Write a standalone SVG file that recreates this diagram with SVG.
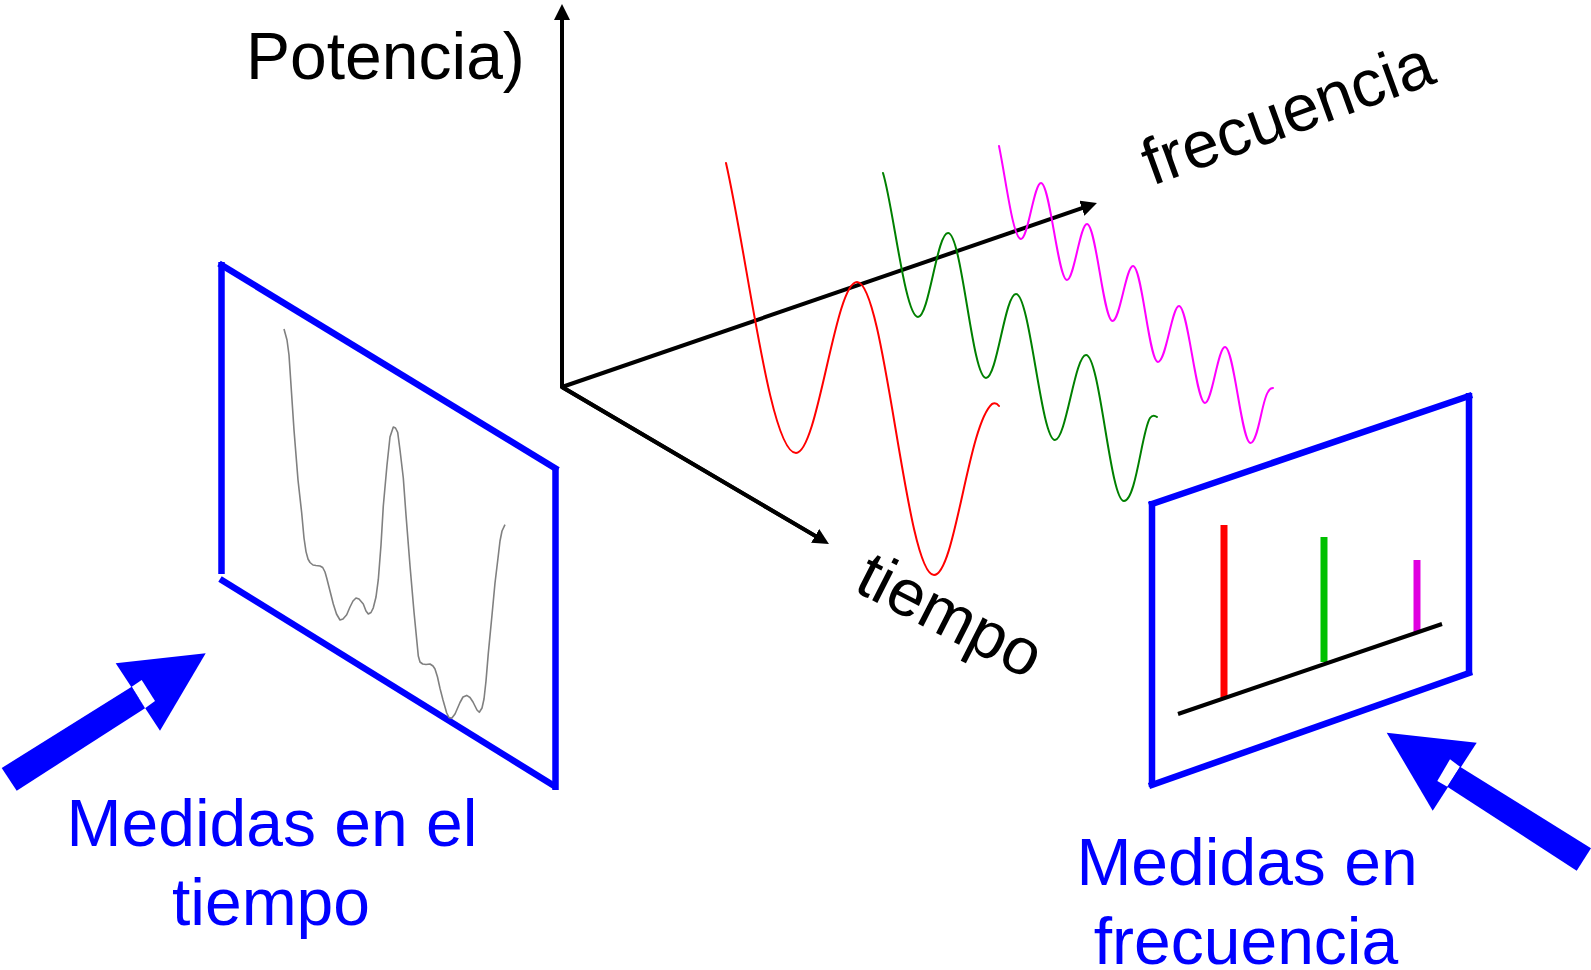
<svg xmlns="http://www.w3.org/2000/svg" width="1591" height="970" viewBox="0 0 1591 970">
<style>
.txt{font-family:"Liberation Sans",Arial,sans-serif;font-size:66px;fill:#000}
.blue{fill:#0000FF}
.axis{fill:none;stroke:#000;stroke-width:4;stroke-linejoin:miter}
.panel{fill:none;stroke:#0000FF;stroke-width:6.5;stroke-linecap:butt}
.wave{fill:none;stroke-width:2;stroke-linecap:round;stroke-linejoin:round}
.big{fill:#0000FF}
</style>
<defs>
<marker id="ah" viewBox="0 0 16 16" refX="4" refY="8" markerUnits="userSpaceOnUse" markerWidth="16" markerHeight="16" orient="auto">
<path d="M0,0 L16,8 L0,16 z" fill="#000"/>
</marker>
</defs>
<rect width="1591" height="970" fill="#fff"/>

<g id="connectors">
<path class="axis" d="M818.6,537.9 L562,387 L562,16" marker-end="url(#ah)"/>
<path class="axis" d="M562,387 L1085.6,206.9" marker-end="url(#ah)"/>
<path d="M562,387 L818.6,537.9" class="axis" marker-end="url(#ah)"/>
</g>

<g id="axis-labels">
<text class="txt" x="246" y="79">Potencia)</text>
<text class="txt" transform="translate(1152,186) rotate(-20)">frecuencia</text>
<text class="txt" transform="translate(852,590) rotate(27)">tiempo</text>
</g>

<g id="waves">
<path class="wave" stroke="#FF0000" d="M726,163 C748,260 770,453 796,453 C818,453 835,282 857,282 C885,282 906,575 934,575 C955,575 968,425 992,404 Q996,402 999,406"/>
<path class="wave" stroke="#008000" d="M883,173 C893,205 905,317 918,317 C929,317 937,233 948,233 C962,233 972,378 986,378 C997,378 1005,294 1016,294 C1030,294 1041,440 1055,440 C1066,440 1075,355 1086,355 C1100,355 1110,501 1124,501 C1136,501 1142,430 1150,418 Q1153,414 1157,417"/>
<path class="wave" stroke="#FF00FF" d="M999,146 C1006,180 1013,239 1021,239 C1028,239 1034,183 1041,183 C1050,183 1058,280 1067,280 C1074,280 1080,224 1087,224 C1096,224 1103.5,321 1112.5,321 C1120,321 1126,266 1133,266 C1142,266 1149,362 1158,362 C1166,362 1172,306 1179,306 C1188,306 1196,403 1205,403 C1212,403 1218,347 1225,347 C1234,347 1241.5,443 1250.5,443 C1258,443 1262,400 1268,392 Q1270,388 1273,388"/>
</g>

<g id="panel-time">
<line class="panel" x1="221.5" y1="262" x2="221.5" y2="574"/>
<line class="panel" x1="219" y1="263.5" x2="558" y2="470"/>
<line class="panel" x1="555.5" y1="468" x2="555.5" y2="790"/>
<line class="panel" x1="220" y1="579" x2="556" y2="787"/>
<polyline fill="none" stroke="#808080" stroke-width="1.6" stroke-linejoin="round" points="284,329 287,340 289,355 291,385 294,430 298,480 301.7,513 304,538 306,551.6 308,559 310,562.5 313,565 316,565.5 320,566 322.7,567.5 325,572 326.7,578 330,591 333.3,604 336.5,614 340,620 343,619 346.7,614.8 350,607 353,601 356,598 359,599 363.3,604 366,611 368.3,614 371,612.5 373.3,607.8 376,597 378.3,579.7 381,545 383.3,506 387,465 390,437 393.3,427 395.5,428 397.7,432.4 400,450 403.3,478 406,515 410,565.7 414,612 418.3,656 420,662 422.7,664 426,664.5 430,664 433,666 435,669 437.5,677 440,688.4 443,700 446.7,713 449,717.5 451.7,718.3 455,714 460,702.5 463,697 466.7,695.4 470,697.5 473,702 475,706 477,710 479.3,712.3 482,708 484,699 486,681 488.3,653.4 492,615 495,583 498,558 500,541 502,531 505,524.6"/>
</g>

<g id="panel-freq">
<line class="panel" x1="1152" y1="501" x2="1152" y2="787"/>
<line class="panel" x1="1149" y1="505" x2="1472" y2="395"/>
<line class="panel" x1="1469" y1="393" x2="1469" y2="674"/>
<line class="panel" x1="1149" y1="786" x2="1472" y2="672"/>
<line x1="1224" y1="525" x2="1224" y2="698" stroke="#FF0000" stroke-width="7"/>
<line x1="1324" y1="537" x2="1324" y2="662" stroke="#00C000" stroke-width="7"/>
<line x1="1417" y1="560" x2="1417" y2="632" stroke="#E000E0" stroke-width="7"/>
<line x1="1178" y1="714" x2="1442" y2="624" stroke="#000" stroke-width="4"/>
</g>

<g id="arrow-time">
<polygon class="big" points="115.7,663.3 205.7,653.3 160,730.7"/>
<polygon fill="#fff" points="131.7,686.7 141.7,680 155,701 145,708.3"/>
<polygon class="big" points="1.7,768 131.7,686.7 145,708.3 16.7,790.7"/>
</g>

<g id="arrow-freq">
<polygon class="big" points="1386.7,732.7 1476.7,742.7 1432.7,810.7"/>
<polygon fill="#fff" points="1450,759.3 1460,766.7 1447.3,786.7 1437.3,781"/>
<polygon class="big" points="1460,766.7 1591,848.3 1576.7,870.7 1447.3,786.7"/>
</g>

<g id="label-time">
<text class="txt blue" text-anchor="middle" x="272" y="846">Medidas en el</text>
<text class="txt blue" text-anchor="middle" x="271" y="925">tiempo</text>
</g>

<g id="label-freq">
<text class="txt blue" text-anchor="middle" x="1247" y="885">Medidas en</text>
<text class="txt blue" text-anchor="middle" x="1246" y="964">frecuencia</text>
</g>
</svg>
